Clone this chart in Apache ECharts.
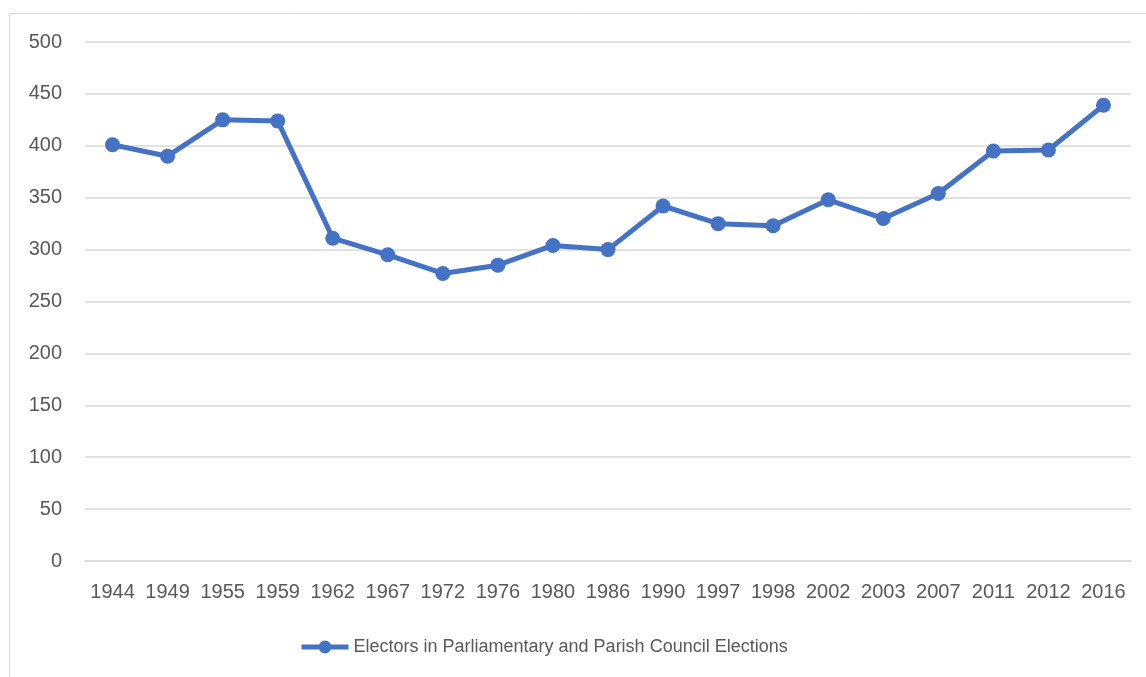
<!DOCTYPE html>
<html>
<head>
<meta charset="utf-8">
<script src="https://cdn.jsdelivr.net/npm/echarts@6/dist/echarts.min.js"></script>
<style>
html, body { margin: 0; padding: 0; background: #fff; }
#chart { width: 1146px; height: 677px; }
</style>
</head>
<body>
<div id="chart"></div>
<script>
// election years
var years = ['1944', '1949', '1955', '1959', '1962', '1967', '1972', '1976', '1980', '1986',
    '1990', '1997', '1998', '2002', '2003', '2007', '2011', '2012', '2016'];
// electors
var electors = [401, 390, 425, 424, 311, 295, 277, 285, 304, 300,
    342, 325, 323, 348, 330, 354, 395, 396, 439];
var seriesName = 'Electors in Parliamentary and Parish Council Elections';

var labelFont = '"Liberation Sans", "DejaVu Sans", sans-serif';
var myChart = echarts.init(document.getElementById('chart'));
var option = {
    animation: false,
    graphic: [{
        type: 'rect',
        shape: { x: 9.5, y: 13.5, width: 1300, height: 800 },
        style: { fill: 'none', stroke: '#d9d9d9', lineWidth: 1 },
        silent: true
    }],
    grid: { left: 85, right: 15, top: 42, bottom: 116 },
    legend: {
        data: [seriesName],
        left: 294,
        top: 633,
        itemWidth: 47,
        itemHeight: 16,
        lineStyle: { width: 5 },
        textStyle: { color: '#595959', fontSize: 18, fontFamily: labelFont }
    },
    xAxis: {
        type: 'category',
        data: years,
        boundaryGap: true,
        axisLine: { lineStyle: { color: '#d9d9d9', width: 1.5 } },
        axisTick: { show: false },
        axisLabel: { color: '#595959', fontSize: 20, margin: 21, fontFamily: labelFont, interval: 0 }
    },
    yAxis: {
        type: 'value',
        min: 0,
        max: 500,
        interval: 50,
        axisLine: { show: false },
        axisTick: { show: false },
        splitLine: { lineStyle: { color: '#d9d9d9', width: 1.5 } },
        axisLabel: { color: '#595959', fontSize: 20, margin: 23, fontFamily: labelFont }
    },
    series: [{
        name: seriesName,
        type: 'line',
        data: electors,
        symbol: 'circle',
        symbolSize: 15,
        itemStyle: { color: '#4472c4' },
        lineStyle: { color: '#4472c4', width: 5 }
    }]
};
myChart.setOption(option);
</script>
</body>
</html>
